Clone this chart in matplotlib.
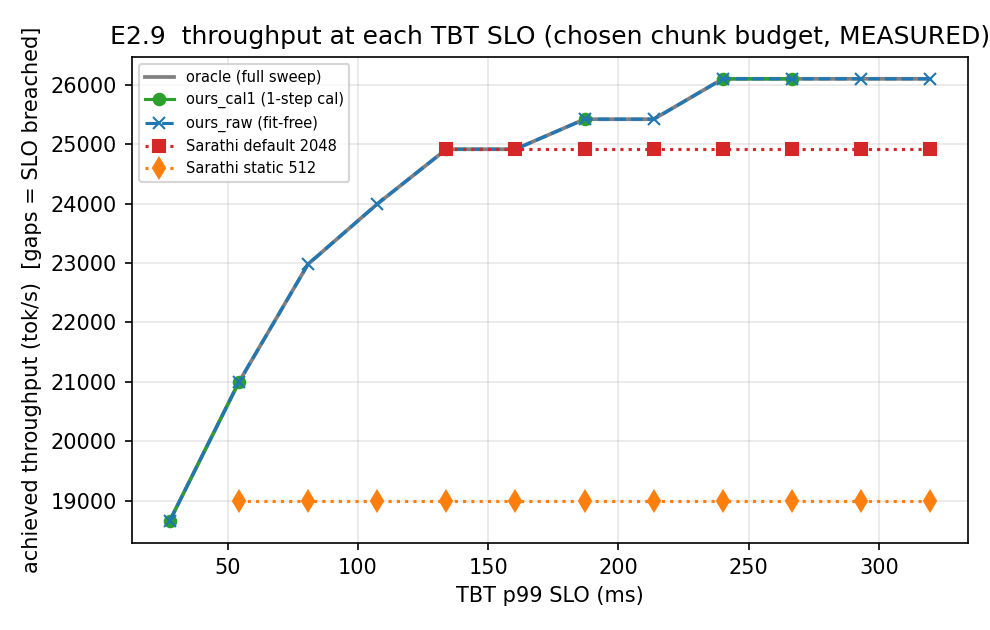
import numpy as np
import matplotlib
matplotlib.use("Agg")
import matplotlib.pyplot as plt

nan = np.nan

# TBT p99 SLO sweep (ms)
slo_ms = [27.7, 54.2, 80.8, 107.3, 133.9, 160.4, 187.0, 213.5, 240.1, 266.6, 293.2, 319.7]

# achieved throughput (tok/s), nan = SLO breached
oracle = [18660, 20990, 22980, 23990, 24915, 24915, 25420, 25420, 26100, 26100, 26100, 26100]
ours_cal1 = [18660, 20990, nan, nan, 24915, nan, 25420, nan, 26100, 26100, nan, nan]
ours_raw = [18660, 20990, 22980, 23990, 24915, 24915, 25420, 25420, 26100, 26100, 26100, 26100]
sarathi_2048 = [nan, nan, nan, nan, 24915, 24915, 24915, 24915, 24915, 24915, 24915, 24915]
sarathi_512 = [nan, 19000, 19000, 19000, 19000, 19000, 19000, 19000, 19000, 19000, 19000, 19000]

fig, ax = plt.subplots(figsize=(6.6, 4.2), dpi=150)

ax.plot(slo_ms, oracle, color="gray", lw=1.8, label="oracle (full sweep)")
ax.plot(slo_ms, ours_cal1, color="tab:green", marker="o", ms=5.5, lw=1.5,
        label="ours_cal1 (1-step cal)")
ax.plot(slo_ms, ours_raw, color="tab:blue", marker="x", ms=6, lw=1.5, ls="--",
        label="ours_raw (fit-free)")
ax.plot(slo_ms, sarathi_2048, color="tab:red", marker="s", ms=5.5, lw=1.5, ls=":",
        label="Sarathi default 2048")
ax.plot(slo_ms, sarathi_512, color="tab:orange", marker="d", ms=7, lw=1.5, ls=":",
        label="Sarathi static 512")

ax.set_xlabel("TBT p99 SLO (ms)")
ax.set_ylabel("achieved throughput (tok/s)  [gaps = SLO breached]")
ax.set_title("E2.9  throughput at each TBT SLO (chosen chunk budget, MEASURED)")
ax.grid(alpha=0.3)
ax.legend(loc="upper left", fontsize=7)

fig.subplots_adjust(left=0.133, right=0.978, top=0.91, bottom=0.138)
fig.savefig("out.png", dpi=150)
